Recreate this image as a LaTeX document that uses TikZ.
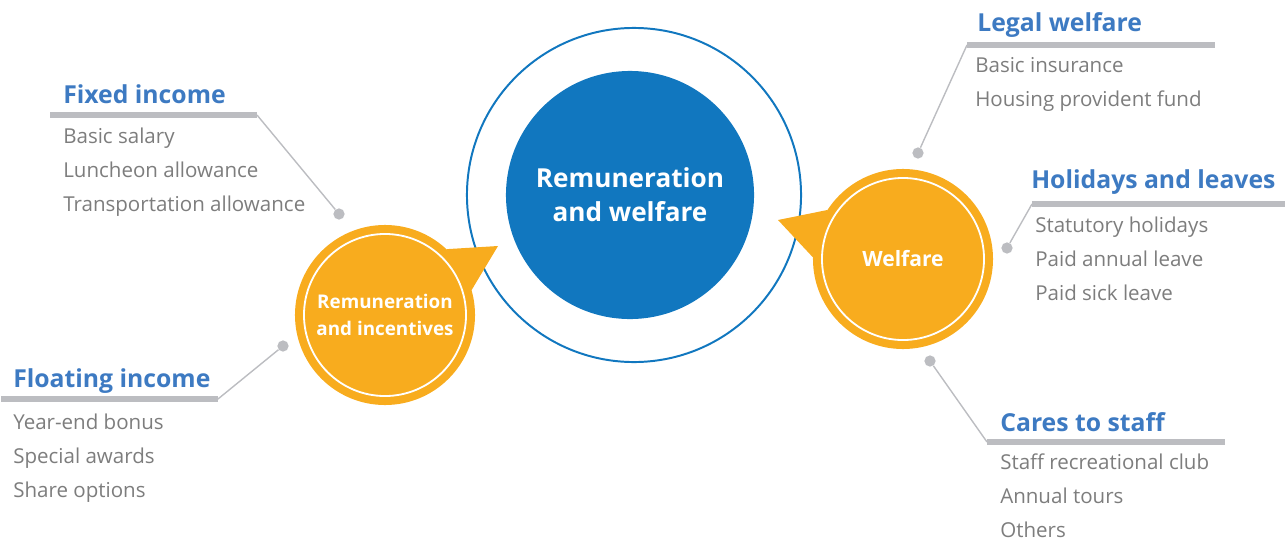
\documentclass[tikz,border=0pt]{standalone}
\usepackage{fontspec}
\setmainfont{Open Sans}
\usetikzlibrary{positioning}
\definecolor{hubblue}{RGB}{17,119,191}
\definecolor{headblue}{RGB}{61,122,194}
\definecolor{subgold}{RGB}{248,172,30}
\definecolor{bargray}{RGB}{188,189,193}
\definecolor{itemgray}{RGB}{125,125,125}
\tikzset{
  outerring/.style={circle, draw=hubblue, line width=1.4pt, minimum size=8.35cm, inner sep=0pt},
  hub/.style={circle, fill=hubblue, minimum size=6.2cm, inner sep=0pt, text=white, align=center,
    font=\bfseries\fontsize{18.6}{24}\selectfont},
  sub/.style={circle, fill=subgold, minimum size=4.5cm, inner sep=0pt, outer sep=0pt, text=white,
    align=center, font=\bfseries\fontsize{13.4}{19}\selectfont},
  subring/.style={circle, draw=white, line width=1.3pt, minimum size=4.05cm, inner sep=0pt},
  pin/.style={circle, fill=bargray, minimum size=8pt, inner sep=0pt},
  lead/.style={draw=bargray, line width=1pt},
  bar/.style={draw=bargray, line width=4.3pt},
  head/.style={anchor=base west, inner sep=0pt, text=headblue, font=\bfseries\fontsize{17.6}{20}\selectfont},
  item/.style={anchor=base west, inner sep=0pt, text=itemgray, font=\fontsize{14.6}{17}\selectfont},
}
\begin{document}
\begin{tikzpicture}[x=0.025cm,y=-0.025cm]
    \useasboundingbox (0,0) rectangle (1285,540);
    %centre
    \node[outerring] (outer) at (634,195) {};
    \node[hub] (hub) at (630,195) {Remuneration\\and welfare};
    %left circle
    \coordinate (ltip) at (498,246);
    \node[sub] (lsub) at (385,315) {Remuneration\\and incentives};
    \fill[subgold] (lsub.47) -- (ltip) -- (lsub.16) -- cycle;
    \node[subring] (lring) at (lsub) {};
    %right circle
    \coordinate (rtip) at (778,220);
    \node[sub, font=\bfseries\fontsize{15}{19}\selectfont] (rsub) at (903,259) {Welfare};
    \fill[subgold] (rsub.147) -- (rtip) -- (rsub.179) -- cycle;
    \node[subring] (rring) at (rsub) {};
    %pins
    \node[pin] (fixpin) at (339,214) {};
    \node[pin] (flopin) at (283,346) {};
    \node[pin] (legpin) at (918,153) {};
    \node[pin] (holpin) at (1007,248) {};
    \node[pin] (carpin) at (930,361) {};
    %bars
    \coordinate (fixL) at (50,115);   \coordinate (fixR) at (257,115);
    \coordinate (floL) at (1,399);    \coordinate (floR) at (218,399);
    \coordinate (legL) at (967,45);   \coordinate (legR) at (1215,45);
    \coordinate (holL) at (1032,204); \coordinate (holR) at (1285,204);
    \coordinate (carL) at (987,442);  \coordinate (carR) at (1225,442);
    \draw[bar] (fixL) -- (fixR);
    \draw[bar] (floL) -- (floR);
    \draw[bar] (legL) -- (legR);
    \draw[bar] (holL) -- (holR);
    \draw[bar] (carL) -- (carR);
    \draw[lead] (fixpin) -- (fixR);
    \draw[lead] (flopin) -- (floR);
    \draw[lead] (legpin) -- (legL);
    \draw[lead] (holpin) -- (holL);
    \draw[lead] (carpin) -- (carL);
    %fixed income
    \node[head] (fixhead) at (63,103) {Fixed income};
    \node[item] (fix1) at (63,143) {Basic salary};
    \node[item] (fix2) at (63,177) {Luncheon allowance};
    \node[item] (fix3) at (63,211) {Transportation allowance};
    %floating income
    \node[head] (flohead) at (13,387) {Floating income};
    \node[item] (flo1) at (13,429) {Year-end bonus};
    \node[item] (flo2) at (13,463) {Special awards};
    \node[item] (flo3) at (13,497) {Share options};
    %legal welfare
    \node[head] (leghead) at (977,31) {Legal welfare};
    \node[item] (leg1) at (975,72) {Basic insurance};
    \node[item] (leg2) at (975,106) {Housing provident fund};
    %holidays
    \node[head] (holhead) at (1031,188) {Holidays and leaves};
    \node[item] (hol1) at (1035,232) {Statutory holidays};
    \node[item] (hol2) at (1035,266) {Paid annual leave};
    \node[item] (hol3) at (1035,300) {Paid sick leave};
    %cares
    \node[head] (carhead) at (1000,431) {Cares to staff};
    \node[item] (car1) at (1000,469) {Staff recreational club};
    \node[item] (car2) at (1000,503) {Annual tours};
    \node[item] (car3) at (1000,537) {Others};
\end{tikzpicture}
\end{document}
